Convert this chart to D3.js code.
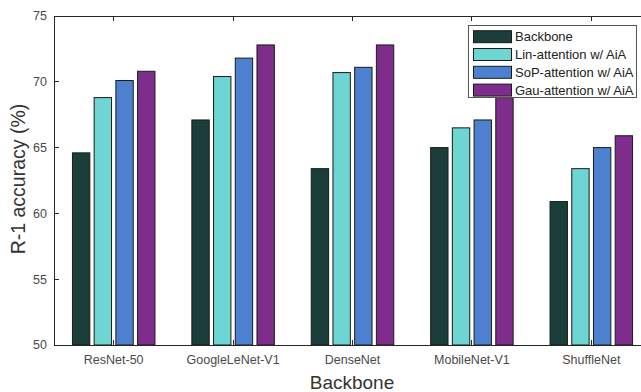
<!DOCTYPE html>
<html><head><meta charset="utf-8">
<script src="https://cdn.jsdelivr.net/npm/d3@7"></script>
<style>body{margin:0;background:#fff}svg{display:block}text{font-family:Arial,"Liberation Sans",sans-serif}</style>
</head><body><svg id="c" width="641" height="392"></svg>
<script>
const categories = ["ResNet-50","GoogleLeNet-V1","DenseNet","MobileNet-V1","ShuffleNet"];
const seriesNames = ["Backbone","Lin-attention w/ AiA","SoP-attention w/ AiA","Gau-attention w/ AiA"];
const backbone = [64.6, 67.1, 63.4, 65.0, 60.9];
const linAtt   = [68.8, 70.4, 70.7, 66.5, 63.4];
const sopAtt   = [70.1, 71.8, 71.1, 67.1, 65.0];
const gauAtt   = [70.8, 72.8, 72.8, 68.8, 65.9];
const yTicks = [50,55,60,65,70,75];
const colors = ["#1b3e3b","#6dd5d2","#4d80ce","#7e2d8c"];
const series = [backbone, linAtt, sopAtt, gauAtt];

const svg = d3.select("#c");
const L=54, R=651, T=16, B=345;
const x = d3.scaleBand().domain(categories).range([L,R]).paddingInner(0.2727).paddingOuter(0.13636);
const xs = d3.scaleBand().domain(d3.range(4)).range([0,x.bandwidth()]).paddingInner(0.2).paddingOuter(0.1);
const y = d3.scaleLinear().domain([50,75]).range([B,T]);

const g = svg.append("g");
categories.forEach((c,i)=>{
  series.forEach((s,j)=>{
    g.append("rect")
      .attr("x", x(c)+xs(j)).attr("width", xs.bandwidth())
      .attr("y", y(s[i])).attr("height", y(50)-y(s[i]))
      .attr("fill", colors[j]).attr("stroke","#1a1a1a").attr("stroke-width",1);
  });
});

const axc = "#262626";
svg.append("path").attr("d",`M${L},${B}H${R}M${L},${T}H${R}M${L+0.5},${T}V${B}`).attr("stroke",axc).attr("stroke-width",1).attr("fill","none").attr("shape-rendering","crispEdges");
yTicks.forEach(t=>{
  svg.append("line").attr("x1",L).attr("x2",L+5).attr("y1",y(t)).attr("y2",y(t)).attr("stroke",axc).attr("shape-rendering","crispEdges");
  svg.append("text").attr("x",L-7).attr("y",y(t)).attr("dy","0.35em").attr("text-anchor","end").attr("font-size",12.5).attr("fill","#4a4a4a").text(t);
});
categories.forEach(c=>{
  const cx = x(c)+x.bandwidth()/2;
  svg.append("line").attr("x1",cx).attr("x2",cx).attr("y1",B).attr("y2",B-5).attr("stroke",axc).attr("shape-rendering","crispEdges");
  svg.append("line").attr("x1",cx).attr("x2",cx).attr("y1",T).attr("y2",T+5).attr("stroke",axc).attr("shape-rendering","crispEdges");
  svg.append("text").attr("x",cx).attr("y",360).attr("dy","0.35em").attr("text-anchor","middle").attr("font-size",12.5).attr("fill","#4a4a4a").text(c);
});
svg.append("text").attr("x",352).attr("y",382).attr("dy","0.35em").attr("text-anchor","middle").attr("font-size",19).attr("fill","#333").text("Backbone");
svg.append("text").attr("transform","translate(25,179) rotate(-90)").attr("text-anchor","middle").attr("font-size",19.5).attr("fill","#333").text("R-1 accuracy (%)");

const lg = svg.append("g");
lg.append("rect").attr("x",468.5).attr("y",25.5).attr("width",168).attr("height",72).attr("fill","#fff").attr("stroke","#555");
seriesNames.forEach((n,i)=>{
  const cy = 36.7 + 17.8*i;
  lg.append("rect").attr("x",473.5).attr("y",cy-6).attr("width",38).attr("height",12).attr("fill",colors[i]).attr("stroke","#1a1a1a");
  lg.append("text").attr("x",515).attr("y",cy).attr("dy","0.35em").attr("font-size",13).attr("fill","#222").text(n);
});
</script></body></html>
